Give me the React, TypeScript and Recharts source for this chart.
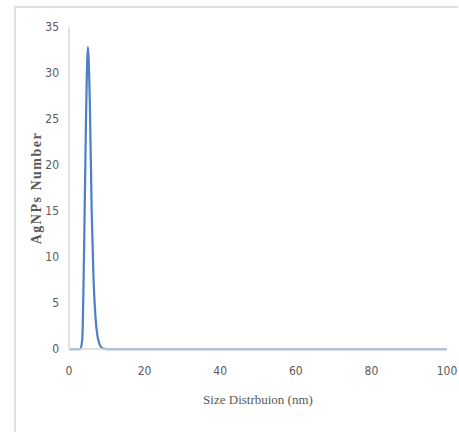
import { Label, Line, LineChart, XAxis, YAxis } from "recharts";

const sizeNm = [0, 1, 2, 3, 3.5, 4, 4.5, 5, 5.5, 6, 6.5, 7, 7.5, 8, 8.5, 9, 10, 15, 20, 25, 30, 35, 40, 45, 50, 55, 60, 65, 70, 75, 80, 85, 90, 95, 100];
const agnpCount = [0, 0, 0, 0, 1, 11, 25, 32.8, 27, 15, 7.5, 3.5, 1.5, 0.6, 0.2, 0.05, 0, 0, 0, 0, 0, 0, 0, 0, 0, 0, 0, 0, 0, 0, 0, 0, 0, 0, 0];
const xTicks = [0, 20, 40, 60, 80, 100];
const yTicks = [0, 5, 10, 15, 20, 25, 30, 35];

const data = sizeNm.map((size, i) => ({ size, count: agnpCount[i] }));

const tickStyle = {
  fontFamily: "'DejaVu Sans Condensed', 'Liberation Sans Narrow', 'Liberation Sans', sans-serif",
  fontSize: 12,
  fill: "#595959",
};

const YTitle = ({ viewBox }: any) => {
  const cy = viewBox.y + viewBox.height / 2;
  return (
    <text
      x={36}
      y={cy}
      transform={`rotate(-90 36 ${cy})`}
      textAnchor="middle"
      dominantBaseline="central"
      fontFamily="'Liberation Serif', serif"
      fontWeight="bold"
      fontSize={14}
      letterSpacing={1.5}
      fill="#595959"
    >
      AgNPs Number
    </text>
  );
};

export default function App() {
  return (
    <div style={{ position: "absolute", left: 0, top: 0, width: 459, height: 432, background: "#fff" }}>
      <div
        style={{
          position: "absolute",
          left: 14,
          top: 6,
          right: 1,
          bottom: -10,
          borderTop: "2px solid #e0e0e0",
          borderLeft: "2px solid #e0e0e0",
        }}
      />
      <LineChart
        width={459}
        height={432}
        data={data}
        margin={{ top: 27, right: 12, bottom: 33, left: 0 }}
        style={{ position: "absolute", left: 0, top: 0 }}
      >
        <XAxis
          dataKey="size"
          type="number"
          domain={[0, 100]}
          ticks={xTicks}
          height={50}
          tickLine={false}
          tickSize={0}
          tickMargin={17}
          axisLine={{ stroke: "#d9d9d9", strokeWidth: 1.5 }}
          tick={tickStyle}
        >
          <Label
            value="Size Distrbuion (nm)"
            position="bottom"
            offset={-4}
            style={{ fontFamily: "'Liberation Serif', serif", fontSize: 13, fill: "#595959" }}
          />
        </XAxis>
        <YAxis
          type="number"
          domain={[0, 35]}
          ticks={yTicks}
          width={69}
          tickLine={false}
          tickSize={0}
          tickMargin={10}
          axisLine={{ stroke: "#d9d9d9", strokeWidth: 1.5 }}
          tick={tickStyle}
        >
          <Label content={<YTitle />} />
        </YAxis>
        <Line
          type="monotone"
          dataKey="count"
          stroke="#4f81c4"
          strokeWidth={2.25}
          dot={false}
          isAnimationActive={false}
        />
      </LineChart>
    </div>
  );
}
